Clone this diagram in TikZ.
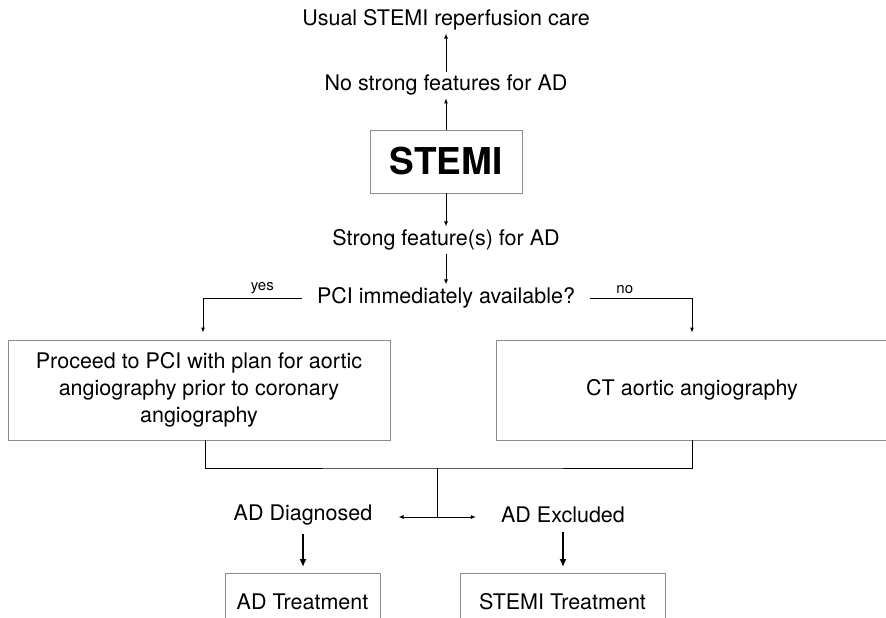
\documentclass[tikz,border=0pt]{standalone}
\usepackage{fontspec}
\setmainfont{TeX Gyre Heros}
\usetikzlibrary{arrows.meta}
\tikzset{
    txt/.style={font=\fontsize{21.5}{25}\selectfont, inner sep=3pt},
    lbl/.style={font=\fontsize{15}{17}\selectfont, inner sep=2pt},
    box/.style={draw=black!45, line width=0.9pt, align=center,
        font=\fontsize{21.5}{27}\selectfont},
    arr/.style={-{Latex[length=5pt,width=4pt]}, line width=0.9pt},
    bigarr/.style={-{Latex[length=8pt,width=7pt]}, line width=1.6pt},
}
\begin{document}
\begin{tikzpicture}[x=1pt,y=-1pt]
    \clip (0,0) rectangle (886,618);
    \fill[white] (0,0) rectangle (886,618);
    % top part
    \node[txt] (usual) at (446,20) {Usual STEMI reperfusion care};
    \node[txt] (nofeat) at (446,85) {No strong features for AD};
    \node[box, font=\fontsize{37}{40}\selectfont\bfseries,
        minimum width=152pt, minimum height=63pt] (stemi) at (446,161.5) {STEMI};
    \node[txt] (feat) at (446,240) {Strong feature(s) for AD};
    \node[txt, inner xsep=15pt] (pci) at (446,298) {PCI immediately available?};
    % the two boxes
    \node[box, minimum width=382pt, minimum height=100pt] (proceed) at (199,390)
        {Proceed to PCI with plan for aortic\\angiography prior to coronary\\angiography};
    \node[box, minimum width=392pt, minimum height=100pt] (ct) at (692,390)
        {CT aortic angiography};
    % outcomes
    \node[txt] (diag) at (303,515) {AD Diagnosed};
    \node[txt] (excl) at (563,515) {AD Excluded};
    \node[box, minimum width=155pt, minimum height=56pt, anchor=north] (adtreat) at (302.5,573)
        {AD Treatment};
    \node[box, minimum width=205pt, minimum height=56pt, anchor=north] (sttreat) at (562.5,573)
        {STEMI Treatment};
    \coordinate (split) at (437,468);
    \coordinate (fork) at (437,517);

    \draw[arr] (nofeat) -- (usual);
    \draw[arr] (stemi) -- (nofeat);
    \draw[arr] (stemi) -- (feat);
    \draw[arr] (feat) -- (pci);
    \draw[arr, shorten >=7pt] (pci.west) -| node[lbl, pos=0.2, above=2pt] {yes} ([xshift=4pt]proceed.north);
    \draw[arr, shorten >=7pt] (pci.east) -| node[lbl, pos=0.17, above=2pt] {no} (ct.north);
    \draw[line width=0.9pt] ([xshift=6pt]proceed.south) |- (split) -| (ct.south);
    \draw[line width=0.9pt] (split) -- (fork);
    \draw[arr, shorten >=23pt] (fork) -- (fork -| diag.east);
    \draw[arr, shorten >=22pt] (fork) -- (fork -| excl.west);
    \draw[bigarr, shorten <=6pt, shorten >=6pt] (diag) -- (diag |- adtreat.north);
    \draw[bigarr, shorten <=6pt, shorten >=6pt] (excl) -- (excl |- sttreat.north);
\end{tikzpicture}
\end{document}
